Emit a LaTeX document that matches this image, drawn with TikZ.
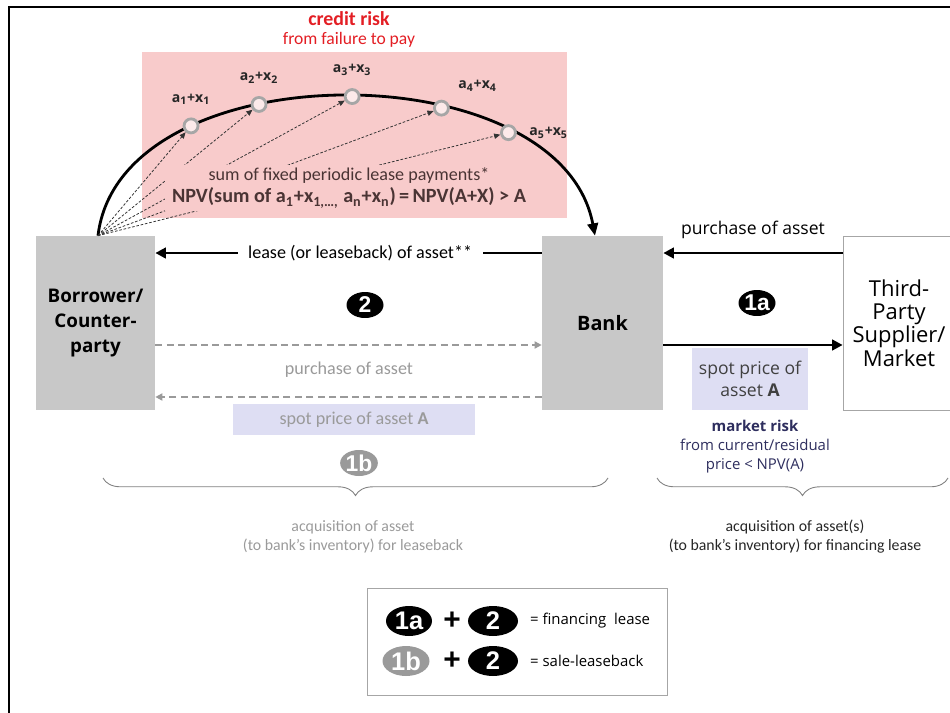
\documentclass[tikz,border=0pt]{standalone}
\usepackage{fontspec}
\setmainfont{Open Sans}
\newfontfamily\calfont{Carlito}
\newfontfamily\badgefont{Liberation Sans}
\usetikzlibrary{arrows.meta,positioning,shapes.geometric,decorations.pathreplacing}
\definecolor{riskpink}{HTML}{F8CBCB}
\definecolor{boxgray}{HTML}{C8C8C8}
\definecolor{spotblue}{HTML}{DEDEF3}
\definecolor{riskred}{HTML}{E31E24}
\definecolor{txtgray}{HTML}{9A9A9A}
\definecolor{navy}{HTML}{2E2E5E}
\definecolor{sumbrown}{HTML}{4A3434}
\tikzset{
  party/.style={fill=boxgray, minimum height=3.48cm, align=center, font=\bfseries\fontsize{10.7}{14.2}\selectfont},
  badge/.style={ellipse, fill=black, text=white, inner sep=0pt, minimum width=0.74cm, minimum height=0.52cm, font=\badgefont\bfseries\fontsize{13}{13}\selectfont},
  bigbadge/.style={badge, minimum width=0.94cm, minimum height=0.6cm, font=\badgefont\bfseries\fontsize{14.5}{14.5}\selectfont},
  payment/.style={circle, draw=gray!70, fill=riskpink!40, inner sep=0pt, minimum size=0.28cm},
  paylab/.style={font=\bfseries\fontsize{8}{8}\selectfont, text=black!85, label distance=3pt},
  flow/.style={line width=1.5pt, -{Triangle[length=6pt,width=6pt]}},
  grayflow/.style={line width=1.2pt, txtgray, dash pattern=on 4pt off 2.5pt, -{Triangle[length=4pt,width=4pt]}},
  fan/.style={black!80, line width=0.45pt, dash pattern=on 1.5pt off 1pt, -{Triangle[length=3.5pt,width=3pt]}},
  cal/.style={font=\calfont\fontsize{10.3}{12}\selectfont},
  undbrace/.style={decorate, decoration={brace, mirror, amplitude=10pt}, gray, line width=0.5pt}
}
\begin{document}
\begin{tikzpicture}[x=0.02cm, y=-0.02cm]
\useasboundingbox (0,0) rectangle (950,713);
% frame
\draw[line width=1.3pt] (9,713) -- (9,7) -- (950,7);
% credit risk area
\fill[riskpink] (142,52) rectangle (567,218);
\node[font=\calfont\bfseries\fontsize{11.3}{12}\selectfont, text=riskred] (credit) at (349,19) {credit risk};
\node[font=\calfont\fontsize{10}{12}\selectfont, text=riskred] (failure) at (349,40) {from failure to pay};
% parties
\node[party, minimum width=2.38cm] (bor) at (95.5,323) {Borrower/\\Counter-\\party};
\node[party, minimum width=2.42cm, font=\bfseries\fontsize{11.3}{14}\selectfont] (bank) at (602.5,323) {Bank};
\node[draw=gray!70, minimum width=2.24cm, minimum height=3.48cm, align=center, font=\fontsize{12.5}{13.2}\selectfont] (market) at (899,323) {Third-\\Party\\Supplier/\\Market};
% payments along the lease term
\draw[line width=1.6pt, -{Triangle[length=7pt,width=6pt]}] ([xshift=0.05cm]bor.north) .. controls (120,50) and (560,50) .. ([xshift=-0.15cm]bank.north)
  node[payment, pos=0.27, label={[paylab]above:a\textsubscript{1}+x\textsubscript{1}}] (p1) {}
  node[payment, pos=0.38, label={[paylab]above:a\textsubscript{2}+x\textsubscript{2}}] (p2) {}
  node[payment, pos=0.515, label={[paylab]above:a\textsubscript{3}+x\textsubscript{3}}] (p3) {}
  node[payment, pos=0.645, label={[paylab]above right:a\textsubscript{4}+x\textsubscript{4}}] (p4) {}
  node[payment, pos=0.755, label={[paylab]right:a\textsubscript{5}+x\textsubscript{5}}] (p5) {};
\foreach \p in {p1,p2,p3,p4,p5}
  \draw[fan] ([xshift=0.05cm]bor.north) -- (\p);
\node[fill=riskpink, align=center, inner xsep=4pt, inner ysep=2pt, font=\calfont\fontsize{10.3}{12.5}\selectfont, text=sumbrown] (sum) at (349,188)
  {sum of fixed periodic lease payments*\\{\bfseries\fontsize{11.5}{12.5}\selectfont NPV(sum of a\textsubscript{1}+x\textsubscript{1,\dots,} a\textsubscript{n}+x\textsubscript{n})\,=\,NPV(A+X) > A}};
% lease (2)
\draw[flow] ([yshift=1.4cm]bank.west) -- ([yshift=1.4cm]bor.east)
  node[cal, pos=0.47, fill=white, inner xsep=6pt] (lease) {lease (or leaseback) of asset**};
\node[badge] (two) at (365,305) {2};
% sale to bank (1b)
\draw[grayflow] ([yshift=-0.44cm]bor.east) -- ([yshift=-0.44cm]bank.west);
\node[cal, text=txtgray] (purchL) at (349,370) {purchase of asset};
\draw[grayflow] ([yshift=-1.48cm]bank.west) -- ([yshift=-1.48cm]bor.east);
\node[cal, fill=spotblue, minimum width=4.84cm, minimum height=0.62cm, text=txtgray] (spotL) at (354,419.5) {spot price of asset \textbf{A}};
\node[badge, fill=txtgray] (oneb) at (359,463) {1b};
% purchase from market (1a)
\draw[flow] ([yshift=1.4cm]market.west) -- ([yshift=1.4cm]bank.east)
  node[midway, above=4pt, font=\fontsize{10}{12}\selectfont] (purchR) {purchase of asset};
\node[badge] (onea) at (757,303) {1a};
\draw[flow] ([yshift=-0.44cm]bank.east) -- ([yshift=-0.44cm]market.west);
\node[fill=spotblue, minimum width=2.32cm, minimum height=1.24cm, align=center, font=\fontsize{10}{12.5}\selectfont, text=black!75] (spotR) at (750,379) {spot price of\\asset \textbf{A}};
\node[align=center, text=navy, font=\fontsize{8.5}{10.8}\selectfont] (mrisk) at (755,447) {\textbf{market risk}\\from current/residual\\price < NPV(A)};
% braces
\coordinate (lb1) at (103,478);
\coordinate (lb2) at (608,478);
\coordinate (rb1) at (657,478);
\coordinate (rb2) at (948,478);
\draw[undbrace] (lb1) -- (lb2);
\draw[undbrace] (rb1) -- (rb2);
\node[align=center, text=txtgray, font=\calfont\fontsize{9}{10.8}\selectfont] (accL) at (353,537) {acquisition of asset\\(to bank’s inventory) for leaseback};
\node[align=center, text=black!85, font=\calfont\fontsize{9}{10.8}\selectfont] (accR) at (795,537) {acquisition of asset(s)\\(to bank’s inventory) for financing lease};
% legend
\node[draw=gray!70, minimum width=6cm, minimum height=2.14cm] (legend) at (517,641.5) {};
\node[bigbadge, minimum width=0.92cm] (l1a) at (409,621) {1a};
\node[font=\badgefont\bfseries\fontsize{17}{17}\selectfont] (plusa) at (452,621) {+};
\node[bigbadge, minimum width=1cm] (l2a) at (493,621) {2};
\node[anchor=west, font=\fontsize{8.5}{10}\selectfont] (fin) at (524,621) {= financing\ \ lease};
\node[bigbadge, fill=txtgray] (l1b) at (406,661) {1b};
\node[font=\badgefont\bfseries\fontsize{17}{17}\selectfont] (plusb) at (452,661) {+};
\node[bigbadge, minimum width=1cm] (l2b) at (493,661) {2};
\node[anchor=west, font=\fontsize{8.5}{10}\selectfont] (slb) at (524,661) {= sale-leaseback};
\end{tikzpicture}
\end{document}
